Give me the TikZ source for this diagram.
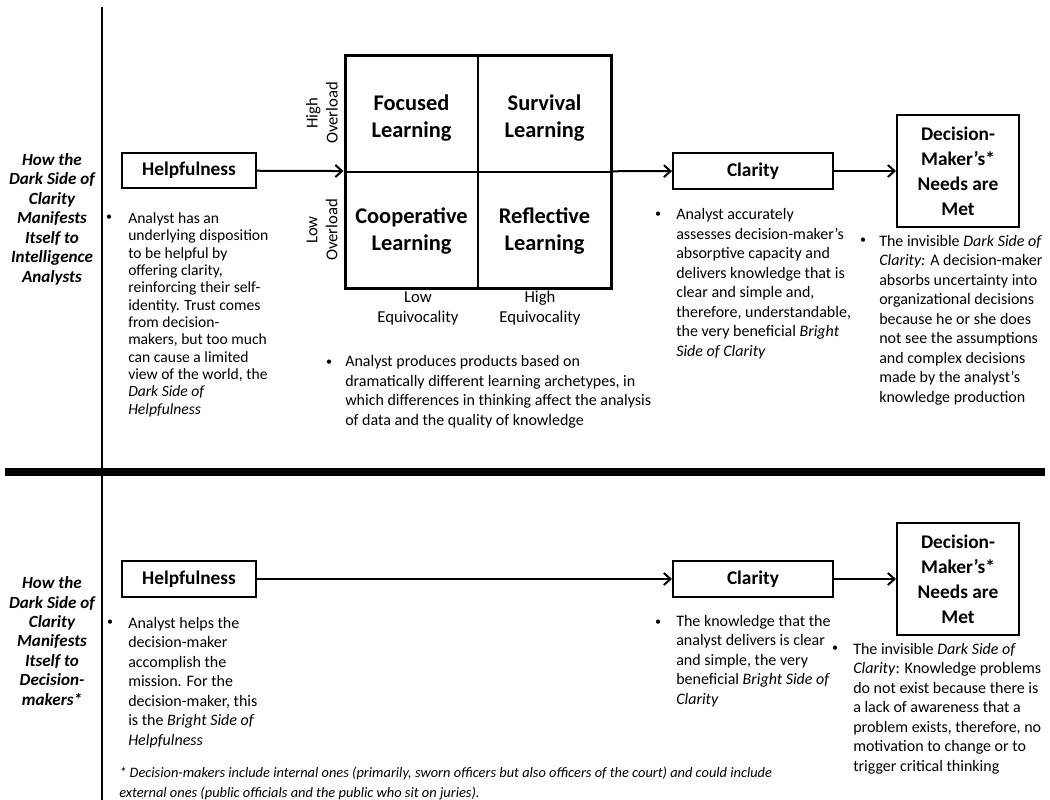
\documentclass[tikz,border=0pt]{standalone}
\usepackage{fontspec}
\setmainfont{Carlito}
\usetikzlibrary{arrows.meta,positioning}

\begin{document}
\begin{tikzpicture}[
    x=0.75pt, y=-0.75pt,
    box/.style={draw, line width=1.5pt, inner sep=0pt, align=center,
      font=\bfseries\fontsize{14.5}{18.7}\selectfont},
    flow/.style={line width=1.5pt, -{Straight Barb[length=5pt,width=9pt]}},
    side/.style={align=center, font=\bfseries\itshape\fontsize{12.8}{14.6}\selectfont},
    note/.style={align=left, anchor=base west, inner sep=0pt,
      font=\fontsize{12}{14.6}\selectfont},
    dot/.style={anchor=base, inner sep=0pt, font=\fontsize{9}{10}\selectfont},
    axis/.style={align=center, inner sep=0pt, font=\fontsize{12.5}{15}\selectfont},
    cell/.style={align=center, font=\bfseries\fontsize{16.8}{20}\selectfont},
    ]
    \useasboundingbox (0,0) rectangle (1050,800);
    \draw[line width=1.5pt] (102,7) -- (102,800);
    \draw[line width=6pt] (5,472) -- (1045,472);

    \node[side] (sideA) at (52,219) {How the\\Dark Side of\\Clarity\\Manifests\\Itself to\\Intelligence\\Analysts};
    \node[side] (sideB) at (52,641) {How the\\Dark Side of\\Clarity\\Manifests\\Itself to\\Decision-\\makers*};

    \node[box, minimum width=100.5pt, minimum height=26.25pt] (helpA) at (189,170.5) {Helpfulness};
    \node[draw, line width=2.25pt, minimum width=199.5pt, minimum height=174.75pt] (grid) at (478,171.5) {};
    \draw[line width=1.5pt] (grid.north) -- (grid.south);
    \draw[line width=1.5pt] (grid.west) -- (grid.east);
    \node[cell] (focus) at (411.5,118) {Focused\\Learning};
    \node[cell] (surv) at (544.5,118) {Survival\\Learning};
    \node[cell] (coop) at (411.5,231) {Cooperative\\Learning};
    \node[cell] (refl) at (544.5,231) {Reflective\\Learning};
    \node[axis, rotate=90] (hiover) at (322,113) {High\\Overload};
    \node[axis, rotate=90] (loover) at (322,230) {Low\\Overload};
    \node[axis] (loequi) at (418,308) {Low\\Equivocality};
    \node[axis] (hiequi) at (540,308) {High\\Equivocality};
    \node[box, minimum width=120pt, minimum height=27pt] (clarA) at (753,171) {Clarity};
    \node[box, minimum width=91.5pt, minimum height=84pt] (needsA) at (958,171) {Decision-\\Maker’s*\\Needs are\\Met};
    \draw[flow] (helpA) -- (grid);
    \draw[flow] (grid) -- (clarA);
    \draw[flow] (clarA) -- (needsA);

    \node[dot] (dotA1) at (109,220) {•};
    \node[note, font=\fontsize{11.7}{13}\selectfont] (txtA1) at (128,414) {Analyst has an\\underlying disposition\\to be helpful by\\offering clarity,\\reinforcing their self-\\identity. Trust comes\\from decision-\\makers, but too much\\can cause a limited\\view of the world, the\\\textit{Dark Side of}\\\textit{Helpfulness}};
    \node[dot] (dotA2) at (329,365) {•};
    \node[note] (txtA2) at (345,425) {Analyst produces products based on\\dramatically different learning archetypes, in\\which differences in thinking affect the analysis\\of data and the quality of knowledge};
    \node[dot] (dotA3) at (658,217) {•};
    \node[note] (txtA3) at (676,356) {Analyst accurately\\assesses decision-maker’s\\absorptive capacity and\\delivers knowledge that is\\clear and simple and,\\therefore, understandable,\\the very beneficial \textit{Bright}\\\textit{Side of Clarity}};
    \node[dot] (dotA4) at (863,243) {•};
    \node[note] (txtA4) at (879,402) {The invisible \textit{Dark Side of}\\\textit{Clarity:} A decision-maker\\absorbs uncertainty into\\organizational decisions\\because he or she does\\not see the assumptions\\and complex decisions\\made by the analyst’s\\knowledge production};

    \node[box, minimum width=100.5pt, minimum height=27pt] (helpB) at (189,579) {Helpfulness};
    \node[box, minimum width=120pt, minimum height=27pt] (clarB) at (753,579) {Clarity};
    \node[box, minimum width=91.5pt, minimum height=84pt] (needsB) at (958,579) {Decision-\\Maker’s*\\Needs are\\Met};
    \draw[flow] (helpB) -- (clarB);
    \draw[flow] (clarB) -- (needsB);

    \node[dot] (dotB1) at (110,625) {•};
    \node[note] (txtB1) at (128,745) {Analyst helps the\\decision-maker\\accomplish the\\mission. For the\\decision-maker, this\\is the \textit{Bright Side of}\\\textit{Helpfulness}};
    \node[dot] (dotB2) at (658,625) {•};
    \node[note] (txtB2) at (676,704) {The knowledge that the\\analyst delivers is clear\\and simple, the very\\beneficial \textit{Bright Side of}\\\textit{Clarity}};
    \node[dot] (dotB3) at (835,651) {•};
    \node[note] (txtB3) at (853,771) {The invisible \textit{Dark Side of}\\\textit{Clarity}: Knowledge problems\\do not exist because there is\\a lack of awareness that a\\problem exists, therefore, no\\motivation to change or to\\trigger critical thinking};

    \node[note, font=\itshape\fontsize{10.8}{15}\selectfont] (foot) at (119,797) {* Decision-makers include internal ones (primarily, sworn officers but also officers of the court) and could include\\external ones (public officials and the public who sit on juries).};
\end{tikzpicture}
\end{document}
